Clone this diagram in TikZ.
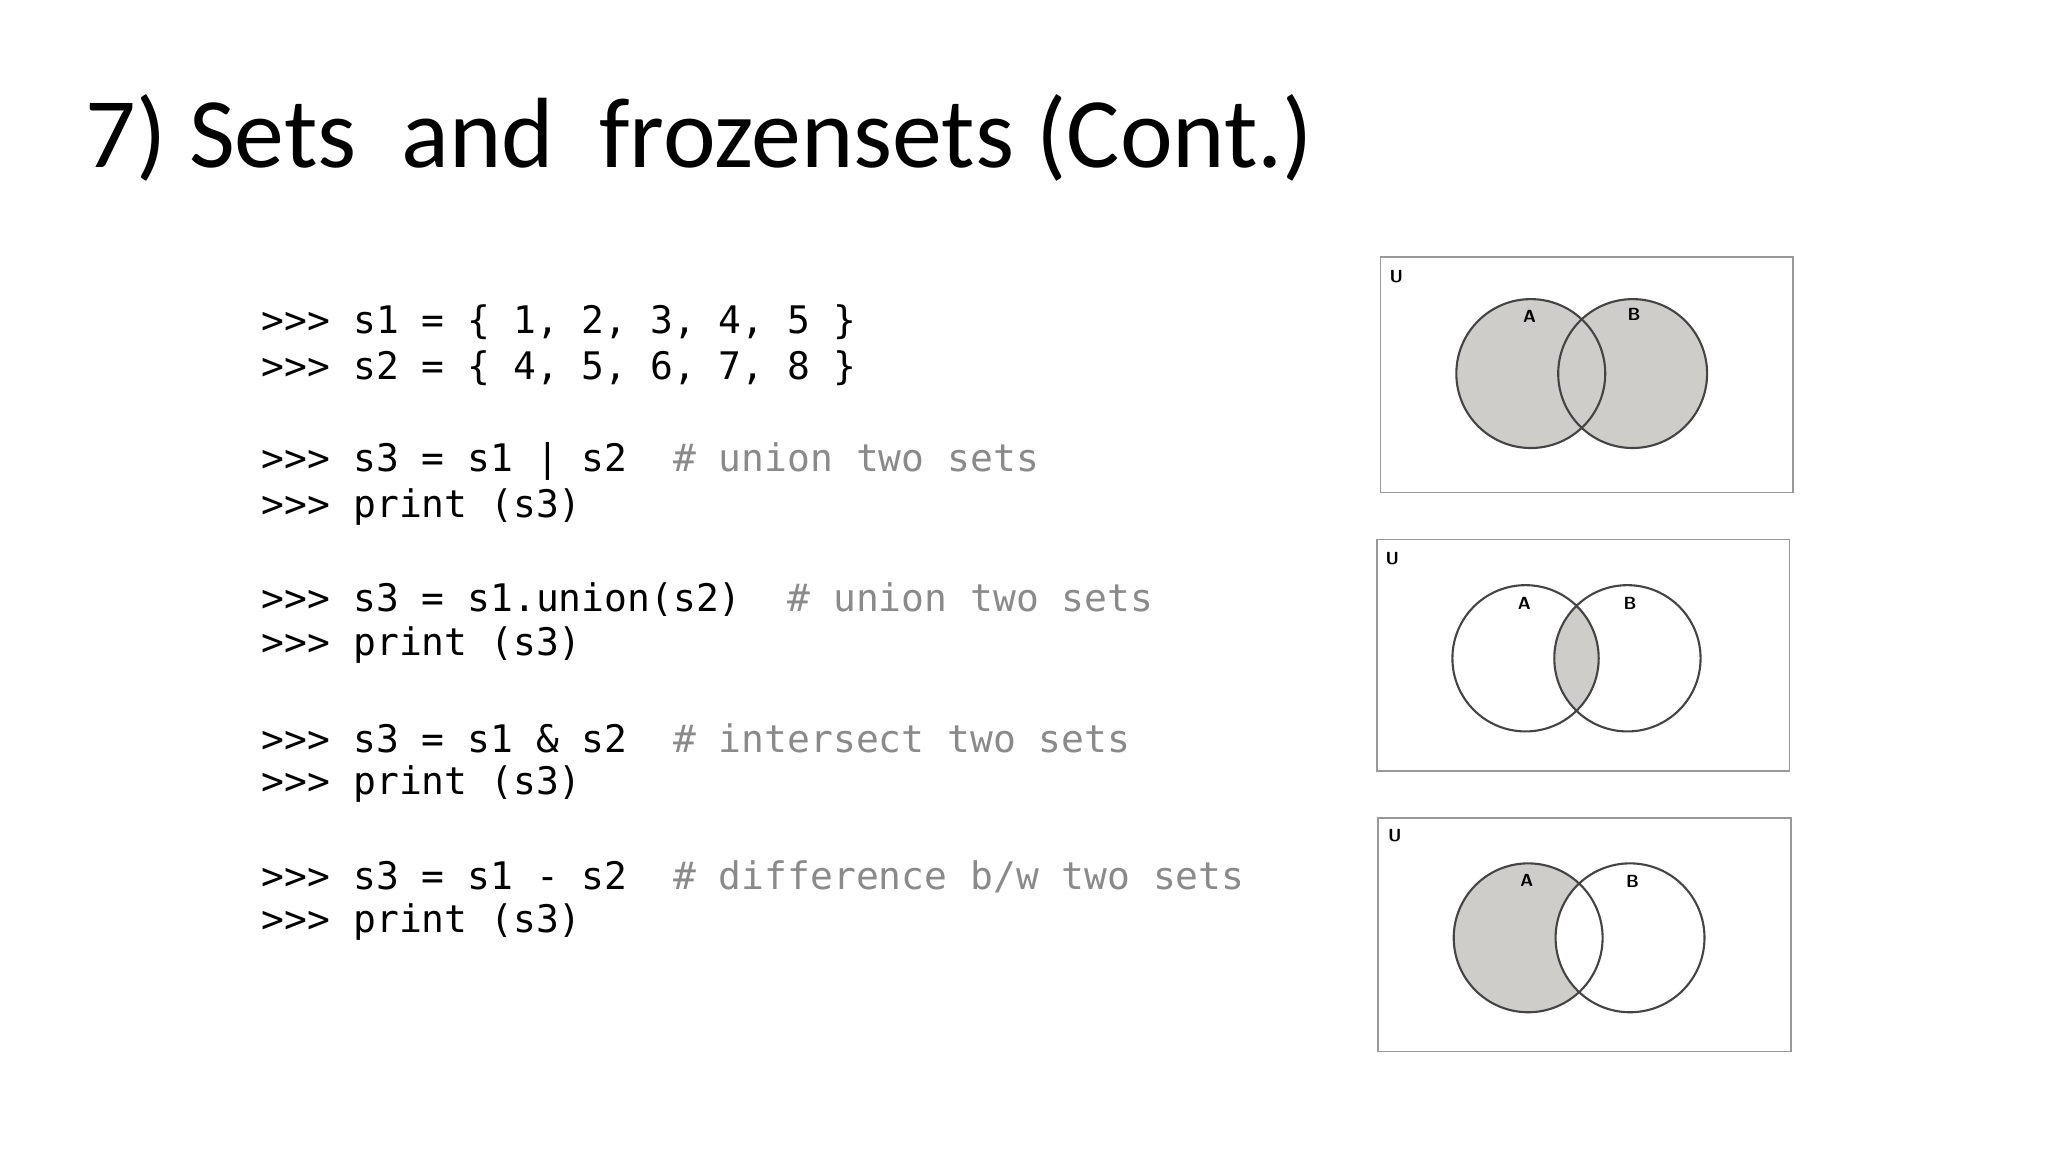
\documentclass[tikz,border=0pt]{standalone}
\usepackage{fontspec}
\setmainfont{Carlito}
\setmonofont{DejaVu Sans Mono}
\definecolor{venngray}{HTML}{CFCDCA}
\definecolor{rim}{HTML}{444444}
\definecolor{comment}{HTML}{8A8A8A}
\tikzset{
  code/.style={anchor=west, inner sep=0pt, font=\ttfamily\fontsize{10.8}{13}\selectfont},
  frame/.style={draw=gray!80, line width=0.5pt},
  ring/.style={draw=rim, line width=0.6pt},
  tag/.style={font=\sffamily\bfseries\fontsize{5}{6}\selectfont, inner sep=0pt}
}
\begin{document}
\begin{tikzpicture}[x=1.3061cm, y=-1.3061cm]
    \useasboundingbox (0,0) rectangle (15.68,8.82);

    % title
    \node[anchor=base west, inner sep=0pt, font=\fontsize{28.4}{34}\selectfont] (title) at (0.65,1.28) {7) Sets\ \ and\ \ frozensets (Cont.)};

    % code listing
    \node[code] (l1) at (2.0,2.47) {>>> s1 = \{ 1, 2, 3, 4, 5 \}};
    \node[code] (l2) at (2.0,2.82) {>>> s2 = \{ 4, 5, 6, 7, 8 \}};
    \node[code] (l3) at (2.0,3.53) {>>> s3 = s1 | s2\ \ \textcolor{comment}{\# union two sets}};
    \node[code] (l4) at (2.0,3.88) {>>> print (s3)};
    \node[code] (l5) at (2.0,4.59) {>>> s3 = s1.union(s2)\ \ \textcolor{comment}{\# union two sets}};
    \node[code] (l6) at (2.0,4.94) {>>> print (s3)};
    \node[code] (l7) at (2.0,5.65) {>>> s3 = s1 \& s2\ \ \textcolor{comment}{\# intersect two sets}};
    \node[code] (l8) at (2.0,6.00) {>>> print (s3)};
    \node[code] (l9) at (2.0,6.71) {>>> s3 = s1 - s2\ \ \textcolor{comment}{\# difference b/w two sets}};
    \node[code] (l10) at (2.0,7.06) {>>> print (s3)};

    % union
    \draw[frame] (10.57,1.97) rectangle (13.73,3.77);
    \coordinate (uA) at (11.72,2.86);
    \coordinate (uB) at (12.50,2.86);
    \fill[venngray] (uA) circle (0.57) (uB) circle (0.57);
    \draw[ring] (uA) circle (0.57) (uB) circle (0.57);
    \node[tag] (uU) at (10.69,2.12) {U};
    \node[tag] (uAt) at (11.71,2.42) {A};
    \node[tag] (uBt) at (12.51,2.41) {B};

    % intersection
    \draw[frame] (10.54,4.13) rectangle (13.70,5.90);
    \coordinate (iA) at (11.68,5.04);
    \coordinate (iB) at (12.46,5.04);
    \begin{scope}
        \clip (iA) circle (0.56);
        \fill[venngray] (iB) circle (0.56);
    \end{scope}
    \draw[ring] (iA) circle (0.56) (iB) circle (0.56);
    \node[tag] (iU) at (10.66,4.28) {U};
    \node[tag] (iAt) at (11.67,4.62) {A};
    \node[tag] (iBt) at (12.48,4.62) {B};

    % difference
    \draw[frame] (10.55,6.26) rectangle (13.71,8.05);
    \coordinate (dA) at (11.70,7.18);
    \coordinate (dB) at (12.48,7.18);
    \fill[venngray] (dA) circle (0.57);
    \fill[white] (dB) circle (0.57);
    \draw[ring] (dA) circle (0.57) (dB) circle (0.57);
    \node[tag] (dU) at (10.68,6.40) {U};
    \node[tag] (dAt) at (11.69,6.74) {A};
    \node[tag] (dBt) at (12.50,6.75) {B};
\end{tikzpicture}
\end{document}
